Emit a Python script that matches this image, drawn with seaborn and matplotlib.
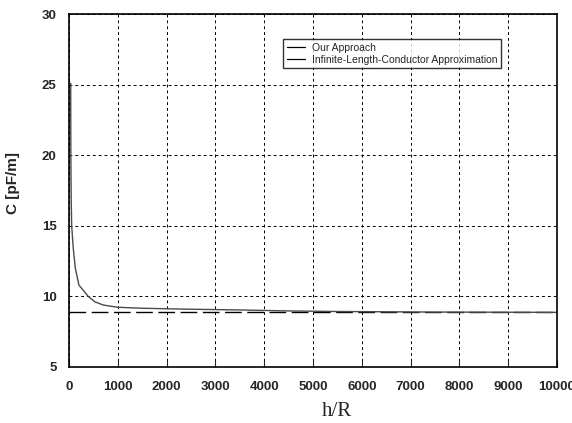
import pandas as pd
import seaborn as sns
import matplotlib.pyplot as plt
from matplotlib.lines import Line2D

# curve: h/R and capacitance in pF/m
h_ratio = [35, 38, 45, 55, 88, 130, 204, 300, 394, 530, 700, 1000,
           1500, 2500, 3500, 4500, 5500, 6500, 7500, 10000]
cap_ours = [25.1, 20.0, 17.0, 15.0, 13.4, 12.0, 10.8, 10.4, 10.0,
            9.62, 9.39, 9.23, 9.16, 9.09, 9.04, 8.97, 8.93, 8.91, 8.89, 8.87]
h_inf = [0, 10000]
cap_inf = [8.87, 8.87]
x_ticks = [0, 1000, 2000, 3000, 4000, 5000, 6000, 7000, 8000, 9000, 10000]
y_ticks = [5, 10, 15, 20, 25, 30]
series_names = ["Our Approach", "Infinite-Length-Conductor Approximation"]

df_ours = pd.DataFrame({"h": h_ratio, "C": cap_ours})
df_inf = pd.DataFrame({"h": h_inf, "C": cap_inf})

sns.set_style("ticks")
plt.rcParams["font.family"] = ["Liberation Sans", "DejaVu Sans"]

fig = plt.figure(figsize=(5.72, 4.23), dpi=100)
ax = fig.add_axes([0.1206, 0.1324, 0.8532, 0.8345])

sns.lineplot(data=df_inf, x="h", y="C", ax=ax, color="black", lw=1.0,
             dashes=False, linestyle=(0, (12, 4)))
sns.lineplot(data=df_ours, x="h", y="C", ax=ax, color="#4a4a4a", lw=1.0)

ax.set_xlim(0, 10000)
ax.set_ylim(5, 30)
ax.set_xticks(x_ticks)
ax.set_yticks(y_ticks)
ax.set_xticklabels([str(t) for t in x_ticks], fontsize=9.5, fontweight="bold")
ax.set_yticklabels([str(t) for t in y_ticks], fontsize=9.5, fontweight="bold")
ax.tick_params(axis="x", direction="in", length=5, width=0.8, pad=10)
ax.tick_params(axis="y", direction="in", length=0, pad=9)
ax.grid(True, color="black", linestyle=(0, (3, 3)), linewidth=0.7)

for s in ax.spines.values():
    s.set_visible(True)
    s.set_color("black")
    s.set_linewidth(1.2)

ax.set_xlabel("h/R", family=["Liberation Serif", "DejaVu Serif"], fontsize=15)
ax.xaxis.set_label_coords(0.549, -0.10)
ax.set_ylabel("C [pF/m]", fontsize=11, fontweight="bold")
ax.yaxis.set_label_coords(-0.10, 0.52)

handles = [Line2D([], [], color="black", lw=0.9),
           Line2D([], [], color="black", lw=0.9)]
leg = ax.legend(handles, series_names, loc="upper left",
                bbox_to_anchor=(0.4385, 0.929), borderaxespad=0,
                fontsize=7.5, frameon=True, fancybox=False, handlelength=1.8,
                labelspacing=0.2, borderpad=0.35, handletextpad=0.6)
leg.get_frame().set_edgecolor("black")
leg.get_frame().set_linewidth(1.0)

fig.savefig("out.png", dpi=100)
